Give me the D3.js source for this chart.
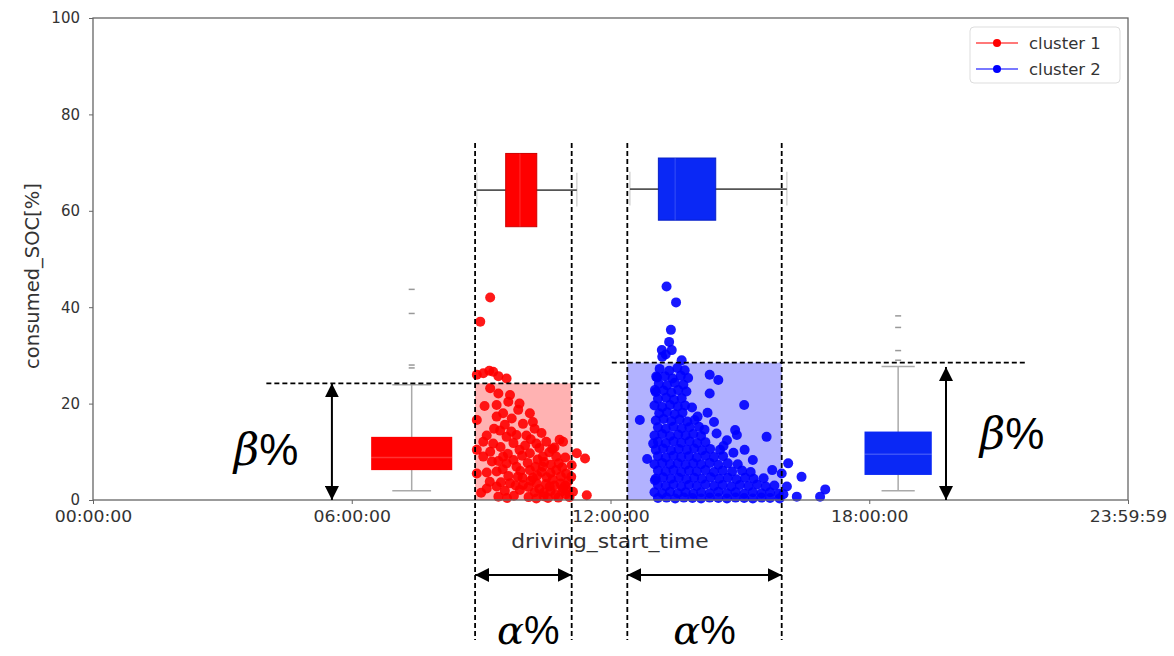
<!DOCTYPE html>
<html>
<head>
<meta charset="utf-8">
<style>
  body { margin: 0; background: #fff; }
  svg text { font-family: "DejaVu Sans", sans-serif; }
</style>
</head>
<body>
<svg id="chart" width="1174" height="656"></svg>
<script src="https://cdnjs.cloudflare.com/ajax/libs/d3/7.8.5/d3.min.js"></script>
<script>
  // axis ticks
  const yTicks = [0, 20, 40, 60, 80, 100];
  const xTickHours = [0, 6, 12, 18, 24];
  const xTickLabels = ['00:00:00', '06:00:00', '12:00:00', '18:00:00', '23:59:59'];
  const seriesNames = ['cluster 1', 'cluster 2'];

  // scatter: [start hour, consumed SOC %]
  const cluster1 = [
    [9.21, 42.0], [8.98, 37.0],
    [8.90, 26.0], [9.05, 26.3], [9.19, 26.8], [9.28, 26.6], [9.40, 25.7], [9.59, 25.2],
    [9.21, 23.2], [9.40, 22.1], [9.67, 21.8], [9.63, 20.4], [9.89, 20.0], [9.36, 19.7],
    [9.86, 18.7], [10.13, 18.0], [9.51, 18.0], [8.90, 16.6], [9.36, 17.3], [9.71, 16.9],
    [10.24, 14.8], [9.97, 15.8], [9.44, 14.4], [9.13, 13.4], [9.05, 12.1], [9.28, 11.7],
    [9.59, 13.1], [9.82, 13.5], [10.28, 11.7], [10.51, 12.1], [10.82, 12.5], [10.90, 12.1],
    [8.90, 10.4], [11.22, 9.7], [11.41, 8.6], [9.21, 10.0], [9.51, 9.0], [9.89, 10.4],
    [10.13, 9.7], [10.43, 9.0], [10.74, 9.0], [8.90, 5.5], [9.13, 5.7], [9.36, 5.9],
    [9.59, 7.6], [9.82, 6.9], [10.13, 6.2], [10.43, 6.9], [10.74, 6.2], [10.97, 5.5],
    [11.09, 4.8], [9.13, 2.4], [9.36, 2.8], [9.67, 3.5], [9.97, 3.1], [10.28, 3.5],
    [10.59, 2.8], [10.90, 2.4], [11.13, 1.7], [11.45, 1.0],
    [9.45, 11.0], [10.02, 11.3], [10.35, 10.8], [10.65, 10.6], [9.62, 9.6], [9.95, 9.2],
    [10.31, 8.4], [10.58, 9.9], [10.95, 8.8], [9.40, 8.1], [9.75, 8.3], [10.08, 7.7],
    [10.46, 7.9], [10.80, 7.6], [9.50, 6.4], [9.91, 6.0], [10.26, 6.9], [10.61, 5.6],
    [10.88, 6.8], [9.63, 5.0], [9.96, 4.6], [10.30, 5.1], [10.66, 4.3], [11.02, 3.9],
    [9.46, 3.7], [9.80, 3.0], [10.15, 4.0], [10.50, 3.3], [10.84, 3.4], [9.55, 1.9],
    [9.90, 2.1], [10.24, 1.6], [10.61, 1.8], [10.96, 1.2], [9.40, 0.7], [9.76, 0.9],
    [10.10, 0.6], [10.45, 0.8], [10.79, 0.5], [11.05, 0.6], [9.25, 8.0], [9.05, 9.0],
    [9.20, 3.8], [9.00, 1.5], [9.30, 14.8], [9.70, 14.2], [10.05, 13.4], [10.40, 13.9],
    [10.20, 16.2], [9.55, 15.6], [10.70, 10.9], [10.15, 12.6], [11.10, 7.2], [10.55, 0.4],
    [9.60, 0.4], [9.08, 19.5], [9.75, 11.8], [10.35, 2.3], [10.72, 1.1], [9.85, 4.8],
    [10.20, 4.6], [10.40, 5.8], [10.52, 4.7], [10.70, 3.0], [10.85, 4.9], [10.95, 3.0],
    [10.10, 2.7], [10.45, 1.5], [10.88, 1.8], [10.28, 0.3], [11.00, 2.0], [10.62, 7.3]
  ];

  const cluster2 = [
    [13.30, 44.3], [13.52, 41.0], [13.40, 35.3], [13.36, 32.8], [13.19, 31.1], [13.42, 31.1],
    [13.20, 29.7], [13.65, 29.0], [13.28, 30.2],
    [14.30, 26.0], [14.50, 24.9], [14.30, 22.1], [15.10, 19.7], [14.89, 14.5], [14.93, 13.5],
    [14.46, 13.8], [15.62, 13.1], [15.11, 10.4], [14.02, 17.3], [14.05, 15.2], [14.70, 12.4],
    [14.54, 10.4], [14.25, 18.1], [14.18, 14.6],
    [16.12, 7.6], [16.43, 4.8], [15.97, 5.5], [16.98, 2.2], [16.86, 0.7], [16.32, 0.7],
    [16.09, 2.8], [16.01, 1.2],
    [12.68, 16.6], [13.03, 4.1], [12.99, 11.7], [13.03, 22.8], [13.06, 25.6],
    [13.14, 27.2], [13.36, 26.8], [13.55, 27.4], [13.72, 26.9],
    [13.08, 25.4], [13.26, 25.7], [13.44, 25.2], [13.63, 25.8], [13.80, 25.3],
    [13.12, 24.1], [13.31, 23.8], [13.49, 24.3], [13.69, 23.9],
    [13.05, 22.4], [13.23, 22.7], [13.41, 22.3], [13.57, 22.8], [13.76, 22.5],
    [13.10, 21.0], [13.29, 21.2], [13.47, 20.8], [13.65, 21.1],
    [13.02, 19.6], [13.20, 19.3], [13.38, 19.7], [13.56, 19.4], [13.73, 19.6], [13.89, 19.2],
    [13.13, 18.0], [13.31, 18.2], [13.49, 17.8], [13.67, 18.1],
    [13.05, 16.5], [13.23, 16.8], [13.41, 16.4], [13.60, 16.7], [13.78, 16.3], [13.95, 16.6],
    [13.10, 15.1], [13.28, 14.8], [13.46, 15.2], [13.65, 14.9], [13.83, 15.1],
    [13.02, 13.4], [13.20, 13.7], [13.38, 13.3], [13.57, 13.6], [13.74, 13.4], [13.92, 13.7], [14.10, 13.3],
    [13.10, 12.1], [13.28, 11.8], [13.46, 12.2], [13.64, 11.9], [13.83, 12.2], [14.01, 11.8], [14.20, 12.0],
    [13.05, 10.4], [13.22, 10.7], [13.40, 10.3], [13.58, 10.6], [13.77, 10.4], [13.94, 10.7], [14.12, 10.3], [14.31, 10.6],
    [13.10, 9.1], [13.28, 8.8], [13.46, 9.2], [13.64, 8.9], [13.82, 9.1], [14.00, 8.8], [14.20, 9.2], [14.40, 8.9], [14.61, 9.1],
    [13.02, 7.4], [13.20, 7.7], [13.38, 7.4], [13.56, 7.6], [13.74, 7.3], [13.92, 7.6], [14.10, 7.4],
    [14.30, 7.7], [14.50, 7.3], [14.72, 7.6], [14.95, 7.4],
    [13.10, 6.1], [13.28, 5.9], [13.46, 6.2], [13.64, 5.8], [13.82, 6.1], [14.00, 5.9], [14.20, 6.2],
    [14.40, 5.8], [14.60, 6.1], [14.82, 5.9], [15.05, 6.1], [15.25, 5.8],
    [13.05, 4.4], [13.22, 4.7], [13.40, 4.4], [13.58, 4.6], [13.76, 4.3], [13.94, 4.6], [14.12, 4.4],
    [14.32, 4.7], [14.52, 4.4], [14.72, 4.6], [14.92, 4.3], [15.12, 4.6], [15.32, 4.4], [15.55, 4.5],
    [13.10, 3.1], [13.28, 2.9], [13.46, 3.2], [13.64, 2.8], [13.82, 3.1], [14.00, 2.9], [14.20, 3.2],
    [14.40, 2.9], [14.60, 3.1], [14.80, 2.8], [15.00, 3.1], [15.20, 2.9], [15.40, 3.2], [15.60, 2.8], [15.80, 3.0],
    [13.02, 1.6], [13.20, 1.4], [13.38, 1.7], [13.56, 1.4], [13.74, 1.6], [13.92, 1.3], [14.10, 1.6],
    [14.30, 1.4], [14.50, 1.7], [14.70, 1.4], [14.90, 1.6], [15.10, 1.3], [15.30, 1.6], [15.50, 1.4],
    [15.70, 1.6], [15.90, 1.3],
    [13.10, 0.4], [13.30, 0.5], [13.50, 0.3], [13.70, 0.5], [13.90, 0.4], [14.10, 0.3], [14.30, 0.5],
    [14.50, 0.4], [14.70, 0.3], [14.90, 0.5], [15.10, 0.4], [15.30, 0.3], [15.50, 0.5], [15.70, 0.4], [15.92, 0.3],
    [14.40, 16.2], [14.62, 11.2], [15.30, 8.3], [15.75, 6.2], [14.85, 9.8], [12.85, 8.5]
  ];

  // boxplots of consumed SOC (vertical), per cluster
  const socStats = [
    { pos: 7.39, whislo: 1.9, q1: 6.2, med: 8.8, q3: 13.1, whishi: 23.9, fliers: [27.4, 28.0, 38.7, 43.7] },
    { pos: 18.67, whislo: 1.9, q1: 5.2, med: 9.5, q3: 14.2, whishi: 27.7, fliers: [29.0, 31.0, 35.8, 38.2] }
  ];
  // boxplots of driving start time (horizontal), per cluster
  const timeStats = [
    { pos: 64.3, whislo: 8.9, q1: 9.57, med: 9.9, q3: 10.29, whishi: 11.22 },
    { pos: 64.5, whislo: 12.45, q1: 13.11, med: 13.5, q3: 14.44, whishi: 16.09 }
  ];
  // alpha (time window, hours) and beta (SOC %) per cluster
  const alphaRanges = [[8.86, 11.1], [12.39, 15.97]];
  const betaValues = [24.2, 28.5];

  const colors = ['#ff0000', '#0000ff'];
  const boxColors = ['#ff0000', '#0a28f5'];
  const socBoxWidth = [1.88, 1.56];
  const socCapWidth = [0.9, 0.77];
  const timeBoxHeight = [15.2, 12.9];

  const svg = d3.select('#chart');
  const x = d3.scaleLinear().domain([0, 24]).range([93, 1128]);
  const y = d3.scaleLinear().domain([0, 100]).range([500, 18]);

  // shaded alpha x beta regions
  svg.selectAll('rect.region')
    .data(alphaRanges)
    .enter()
    .append('rect')
    .attr('x', (d) => x(d[0]))
    .attr('y', (d, i) => y(betaValues[i]))
    .attr('width', (d) => x(d[1]) - x(d[0]))
    .attr('height', (d, i) => y(0) - y(betaValues[i]))
    .attr('fill', (d, i) => colors[i])
    .attr('fill-opacity', 0.3);

  // scatter points
  [cluster1, cluster2].forEach((pts, i) => {
    svg.append('g')
      .selectAll('circle')
      .data(pts)
      .enter()
      .append('circle')
      .attr('cx', (d) => x(d[0]))
      .attr('cy', (d) => y(d[1]))
      .attr('r', 5)
      .attr('fill', colors[i])
      .attr('fill-opacity', 0.9);
  });

  // vertical SOC boxplots
  socStats.forEach((s, i) => {
    const g = svg.append('g');
    const half = socBoxWidth[i] / 2;
    const capHalf = socCapWidth[i] / 2;
    g.append('line')
      .attr('x1', x(s.pos)).attr('x2', x(s.pos))
      .attr('y1', y(s.whislo)).attr('y2', y(s.whishi))
      .attr('stroke', '#aaa').attr('stroke-width', 1.5);
    [s.whislo, s.whishi].forEach((v) => {
      g.append('line')
        .attr('x1', x(s.pos - capHalf)).attr('x2', x(s.pos + capHalf))
        .attr('y1', y(v)).attr('y2', y(v))
        .attr('stroke', '#aaa').attr('stroke-width', 1.5);
    });
    g.append('rect')
      .attr('x', x(s.pos - half))
      .attr('y', y(s.q3))
      .attr('width', x(s.pos + half) - x(s.pos - half))
      .attr('height', y(s.q1) - y(s.q3))
      .attr('fill', boxColors[i]);
    g.append('line')
      .attr('x1', x(s.pos - half)).attr('x2', x(s.pos + half))
      .attr('y1', y(s.med)).attr('y2', y(s.med))
      .attr('stroke', '#fff').attr('stroke-opacity', 0.2).attr('stroke-width', 1.5);
    g.selectAll('line.flier')
      .data(s.fliers)
      .enter()
      .append('line')
      .attr('x1', x(s.pos) - 3).attr('x2', x(s.pos) + 3)
      .attr('y1', (d) => y(d)).attr('y2', (d) => y(d))
      .attr('stroke', '#999').attr('stroke-width', 1.5);
  });

  // horizontal time boxplots
  timeStats.forEach((s, i) => {
    const g = svg.append('g');
    const half = timeBoxHeight[i] / 2;
    [s.whislo, s.whishi].forEach((v) => {
      g.append('line')
        .attr('x1', x(v)).attr('x2', x(v))
        .attr('y1', y(s.pos + 3.6)).attr('y2', y(s.pos - 3.4))
        .attr('stroke', '#ccc').attr('stroke-width', 1.2);
    });
    g.append('line')
      .attr('x1', x(s.whislo)).attr('x2', x(s.whishi))
      .attr('y1', y(s.pos)).attr('y2', y(s.pos))
      .attr('stroke', '#555').attr('stroke-width', 1.8);
    g.append('rect')
      .attr('x', x(s.q1))
      .attr('y', y(s.pos + half))
      .attr('width', x(s.q3) - x(s.q1))
      .attr('height', y(s.pos - half) - y(s.pos + half))
      .attr('fill', boxColors[i])
      .attr('stroke', d3.color(boxColors[i]).darker(0.6))
      .attr('stroke-width', 1);
    g.append('line')
      .attr('x1', x(s.med)).attr('x2', x(s.med))
      .attr('y1', y(s.pos + half)).attr('y2', y(s.pos - half))
      .attr('stroke', '#fff').attr('stroke-opacity', 0.12).attr('stroke-width', 1.5);
  });

  // frame and axes
  svg.append('rect')
    .attr('x', 93).attr('y', 18)
    .attr('width', 1035).attr('height', 482)
    .attr('fill', 'none')
    .attr('stroke', '#666')
    .attr('stroke-width', 1.3);

  const yAxis = svg.append('g')
    .attr('transform', 'translate(93,0)')
    .call(d3.axisLeft(y).tickValues(yTicks).tickSize(4).tickPadding(9));
  yAxis.select('.domain').remove();
  yAxis.attr('font-family', 'DejaVu Sans').attr('font-size', 15);
  yAxis.selectAll('line').attr('stroke', '#666');
  yAxis.selectAll('text').attr('fill', '#333');

  const xAxis = svg.append('g')
    .attr('transform', 'translate(0,500)')
    .call(d3.axisBottom(x).tickValues(xTickHours).tickFormat((d, i) => xTickLabels[i]).tickSize(4).tickPadding(7));
  xAxis.select('.domain').remove();
  xAxis.attr('font-family', 'DejaVu Sans').attr('font-size', 16);
  xAxis.selectAll('line').attr('stroke', '#666');
  xAxis.selectAll('text').attr('fill', '#333').attr('transform', 'scale(1.08,1)');

  svg.append('text')
    .attr('transform', 'translate(610,548) scale(1.12,1)')
    .attr('text-anchor', 'middle')
    .attr('font-size', 19.5)
    .attr('fill', '#333')
    .text('driving_start_time');

  svg.append('text')
    .attr('transform', 'translate(39,276) rotate(-90)')
    .attr('text-anchor', 'middle')
    .attr('font-size', 19.5)
    .attr('fill', '#333')
    .text('consumed_SOC[%]');

  // legend
  const legend = svg.append('g');
  legend.append('rect')
    .attr('x', 970).attr('y', 27)
    .attr('width', 150).attr('height', 56)
    .attr('rx', 4)
    .attr('fill', '#fff')
    .attr('stroke', '#ddd');
  seriesNames.forEach((name, i) => {
    const ly = 43 + i * 26;
    legend.append('line')
      .attr('x1', 976).attr('x2', 1018)
      .attr('y1', ly).attr('y2', ly)
      .attr('stroke', colors[i]).attr('stroke-opacity', 0.7).attr('stroke-width', 1.5);
    legend.append('circle')
      .attr('cx', 997).attr('cy', ly).attr('r', 4)
      .attr('fill', colors[i]);
    legend.append('text')
      .attr('x', 1029).attr('y', ly)
      .attr('dy', '0.35em')
      .attr('font-size', 16.5)
      .attr('fill', '#333')
      .text(name);
  });

  // annotations
  const defs = svg.append('defs');
  defs.append('marker')
    .attr('id', 'head')
    .attr('viewBox', '0 0 14 14')
    .attr('refX', 14).attr('refY', 7)
    .attr('markerWidth', 14).attr('markerHeight', 14)
    .attr('markerUnits', 'userSpaceOnUse')
    .attr('orient', 'auto-start-reverse')
    .append('path')
    .attr('d', 'M0,0 L14,7 L0,14 Z')
    .attr('fill', '#000');

  const dash = '5,3';
  // vertical dashed lines at alpha edges
  alphaRanges.forEach((r) => {
    r.forEach((h) => {
      svg.append('line')
        .attr('x1', x(h)).attr('x2', x(h))
        .attr('y1', 143).attr('y2', 640)
        .attr('stroke', '#000').attr('stroke-width', 1.8)
        .attr('stroke-dasharray', dash);
    });
  });
  // horizontal dashed lines at beta
  const betaLineSpan = [[4.02, 11.8], [12.03, 21.66]];
  betaValues.forEach((b, i) => {
    svg.append('line')
      .attr('x1', x(betaLineSpan[i][0])).attr('x2', x(betaLineSpan[i][1]))
      .attr('y1', y(b)).attr('y2', y(b))
      .attr('stroke', '#000').attr('stroke-width', 1.8)
      .attr('stroke-dasharray', dash);
  });

  // beta arrows
  const betaArrowX = [5.54, 19.78];
  const betaArrowTop = [24.2, 27.6];
  betaArrowX.forEach((h, i) => {
    svg.append('line')
      .attr('x1', x(h)).attr('x2', x(h))
      .attr('y1', y(0)).attr('y2', y(betaArrowTop[i]))
      .attr('stroke', '#000').attr('stroke-width', 2)
      .attr('marker-start', 'url(#head)')
      .attr('marker-end', 'url(#head)');
  });
  // alpha arrows
  alphaRanges.forEach((r) => {
    svg.append('line')
      .attr('x1', x(r[0])).attr('x2', x(r[1]))
      .attr('y1', 575).attr('y2', 575)
      .attr('stroke', '#000').attr('stroke-width', 2)
      .attr('marker-start', 'url(#head)')
      .attr('marker-end', 'url(#head)');
  });

  function mathLabel(cx, baseline, greek, size) {
    const t = svg.append('text')
      .attr('x', cx).attr('y', baseline)
      .attr('text-anchor', 'middle')
      .attr('font-size', size)
      .attr('fill', '#000');
    t.append('tspan')
      .attr('font-family', 'DejaVu Serif')
      .attr('font-style', 'italic')
      .text(greek);
    t.append('tspan')
      .attr('font-family', 'Liberation Sans')
      .text('%');
  }
  mathLabel(266, 465, 'β', 44);
  mathLabel(1012, 449, 'β', 44);
  mathLabel(x((alphaRanges[0][0] + alphaRanges[0][1]) / 2) + 5, 644, 'α', 40);
  mathLabel(x((alphaRanges[1][0] + alphaRanges[1][1]) / 2), 644, 'α', 40);
</script>
</body>
</html>
